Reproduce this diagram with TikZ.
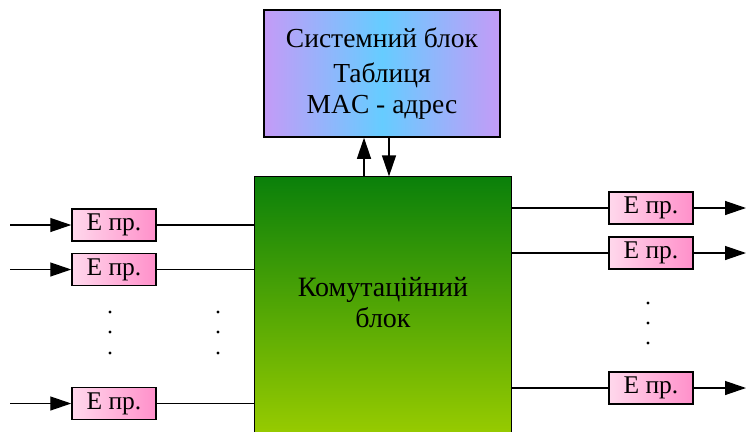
\documentclass[tikz,border=0pt]{standalone}
\usepackage{fontspec}
\setmainfont{Liberation Serif}
\usetikzlibrary{arrows.meta}
\definecolor{purp}{HTML}{C49BF7}
\definecolor{skyb}{HTML}{66CCFF}
\definecolor{gtop}{HTML}{0A800A}
\definecolor{gbot}{HTML}{99CC00}
\definecolor{pinkl}{HTML}{FFD8EC}
\definecolor{pinkd}{HTML}{FF90CA}
\begin{document}
\begin{tikzpicture}[x=1pt,y=-1pt,
  line width=1.3pt,
  arr/.style={-{Triangle[length=21pt,width=14pt]}},
  txt/.style={font=\fontsize{27.5}{30}\selectfont, anchor=base, inner sep=0pt},
  btxt/.style={font=\fontsize{28}{30}\selectfont, anchor=base, inner sep=0pt},
  sysbox/.style={draw, line width=1.5pt, minimum width=236pt, minimum height=127pt, left color=purp, right color=purp, middle color=skyb},
  swbox/.style={minimum width=256pt, minimum height=260pt, top color=gtop, bottom color=gbot, inner sep=0pt},
  ebox/.style={draw, line width=1.5pt, minimum width=84pt, minimum height=32pt, inner sep=0pt, left color=pinkl, right color=pinkd, font=\fontsize{25.5}{28}\selectfont},
  dotm/.style={circle, fill=black, inner sep=0pt, minimum size=3.4pt}
]
\useasboundingbox (0,0) rectangle (746,431);
\fill[white] (0,0) rectangle (746,431);

% system block
\node[sysbox] (sys) at (382,73.5) {};
\node[txt] (t1) at (382,47) {Системний блок};
\node[txt] (t2) at (382,82) {Таблиця};
\node[txt] (t3) at (382,113) {MAC - адрес};

% switching block
\node[swbox] (sw) at (383,307) {};
\draw[line width=1.5pt] (sw.south west) -- (sw.north west) -- (sw.north east) -- (sw.south east);
\node[btxt] (k1) at (383,296) {Комутаційний};
\node[btxt] (k2) at (383,327) {блок};

% arrows between blocks
\coordinate (ux) at (364,0);
\coordinate (dx) at (389,0);
\draw[arr] (ux |- sw.north) -- (ux |- sys.south);
\draw[arr] (dx |- sys.south) -- (dx |- sw.north);

% input ports
\node[ebox] (e1) at (114,225) {E пр.};
\node[ebox] (e2) at (114,269.5) {E пр.};
\node[ebox] (e3) at (114,403.5) {E пр.};
\coordinate (i1) at (10,225);
\coordinate (i2) at (10,269.5);
\coordinate (i3) at (10,403.5);
\foreach \n in {1,2,3}{
  \draw[arr] (i\n) -- (e\n);
  \draw (e\n) -- (e\n -| sw.west);
}

% output ports
\node[ebox] (r1) at (651,208) {E пр.};
\node[ebox] (r2) at (651,253) {E пр.};
\node[ebox] (r3) at (651,388) {E пр.};
\coordinate (o1) at (746,208);
\coordinate (o2) at (746,253);
\coordinate (o3) at (746,388);
\foreach \n in {1,2,3}{
  \draw (r\n -| sw.east) -- (r\n);
  \draw[arr] (r\n) -- (o\n);
}

% dots
\foreach \y [count=\i] in {312,332,353}{
  \node[dotm] (dl\i) at (110,\y) {};
  \node[dotm] (dm\i) at (218,\y) {};
}
\foreach \y [count=\i] in {303,323,343}{
  \node[dotm] (dr\i) at (648,\y) {};
}
\end{tikzpicture}
\end{document}
